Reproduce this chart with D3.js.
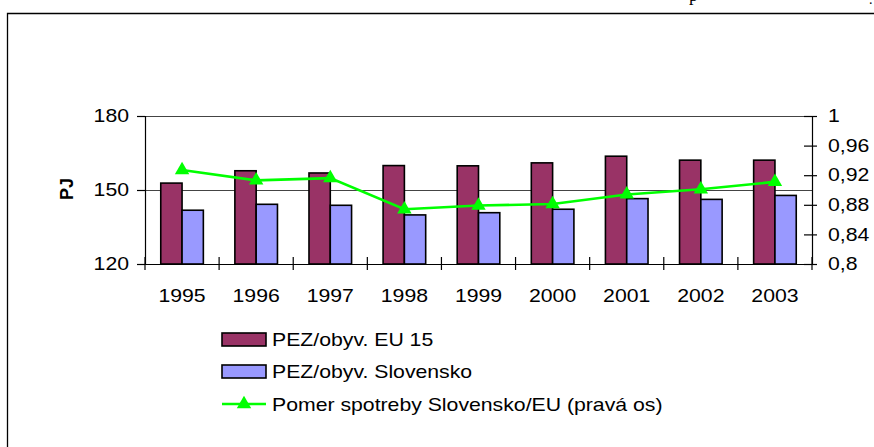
<!DOCTYPE html>
<html>
<head>
<meta charset="utf-8">
<script src="https://cdn.jsdelivr.net/npm/d3@7"></script>
<style>
  body { margin: 0; background: #fff; }
  svg { display: block; font-family: 'Liberation Sans', Arial, sans-serif; }
</style>
</head>
<body>
<svg id="chart" width="874" height="447"></svg>
<script>
// Data
const years = ['1995', '1996', '1997', '1998', '1999', '2000', '2001', '2002', '2003']
const pezEU = [152.8, 157.8, 156.9, 159.9, 159.8, 161.0, 163.7, 162.1, 162.1]
const pezSK = [141.8, 144.2, 143.8, 139.9, 140.8, 142.2, 146.5, 146.2, 147.8]
const ratio = [0.927, 0.913, 0.916, 0.874, 0.879, 0.881, 0.894, 0.901, 0.911]
const leftTicks = [120, 150, 180]
const rightTicks = [0.8, 0.84, 0.88, 0.92, 0.96, 1]
const seriesNames = ['PEZ/obyv. EU 15', 'PEZ/obyv. Slovensko', 'Pomer spotreby Slovensko/EU (pravá os)']
const colors = ['#993366', '#9999ff', '#00ff00']

const svg = d3.select('#chart')
const plot = { left: 145, right: 812, top: 116, bottom: 264 }
const stretch = 1.18 // the picture's text is a little wider than plain Arial

// Text in the reference looks horizontally stretched, so scale each label
function widen (sel) {
  sel.each(function () {
    const t = d3.select(this)
    const x = +t.attr('x') || 0
    const y = +t.attr('y') || 0
    t.attr('x', 0).attr('y', 0)
      .attr('transform', `translate(${x},${y}) scale(${stretch},1)`)
  })
}

// Outer frame (only the top and left edges are in view)
svg.append('path')
  .attr('d', 'M7.5,447V13.5H874')
  .attr('fill', 'none')
  .attr('stroke', '#000')
  .attr('stroke-width', 1.3)

// Leftover glyphs of the page text above the frame
svg.append('text')
  .attr('x', 689).attr('y', 0.5)
  .style('font-family', "'Liberation Serif', serif")
  .style('font-size', '18px')
  .text('p')
svg.append('text')
  .attr('x', 869).attr('y', 4)
  .style('font-family', "'Liberation Serif', serif")
  .style('font-size', '14px')
  .text('.')

// Scales
const x = d3.scaleBand().domain(years).range([plot.left, plot.right])
const x1 = d3.scaleBand().domain(['eu', 'sk']).range([0, x.bandwidth()]).paddingOuter(0.74)
const y = d3.scaleLinear().domain([120, 180]).range([plot.bottom, plot.top])
const y2 = d3.scaleLinear().domain([0.8, 1]).range([plot.bottom, plot.top])

// Gridlines
svg.append('g')
  .selectAll('line')
  .data(leftTicks.slice(1))
  .join('line')
  .attr('x1', plot.left).attr('x2', plot.right)
  .attr('y1', d => Math.round(y(d)) + 0.5).attr('y2', d => Math.round(y(d)) + 0.5)
  .attr('stroke', '#444')
  .attr('stroke-width', 1.2)

// Bars
const groups = svg.append('g')
  .selectAll('g')
  .data(years)
  .join('g')
  .attr('transform', d => `translate(${x(d)},0)`)

groups.append('rect')
  .attr('x', x1('eu'))
  .attr('y', (d, i) => y(pezEU[i]))
  .attr('width', x1.bandwidth())
  .attr('height', (d, i) => y(120) - y(pezEU[i]))
  .attr('fill', colors[0])
  .attr('stroke', '#000')
  .attr('stroke-width', 1.6)

groups.append('rect')
  .attr('x', x1('sk'))
  .attr('y', (d, i) => y(pezSK[i]))
  .attr('width', x1.bandwidth())
  .attr('height', (d, i) => y(120) - y(pezSK[i]))
  .attr('fill', colors[1])
  .attr('stroke', '#000')
  .attr('stroke-width', 1.6)

// Left axis
const leftAxis = svg.append('g')
  .attr('transform', `translate(${plot.left},0)`)
  .call(d3.axisLeft(y).tickValues(leftTicks).tickSize(8).tickPadding(8))
leftAxis.select('.domain').attr('stroke', '#000').attr('stroke-width', 1.2)
leftAxis.selectAll('.tick line').attr('stroke', '#000').attr('stroke-width', 1.2)
leftAxis.selectAll('text')
  .style('font-family', "'Liberation Sans', Arial, sans-serif")
  .style('font-size', '18px')
  .attr('fill', '#000')
  .call(widen)

// Right axis
const rightAxis = svg.append('g')
  .attr('transform', `translate(${plot.right},0)`)
  .call(d3.axisRight(y2).tickValues(rightTicks).tickSize(5).tickPadding(11)
    .tickFormat(d => d3.format('~g')(d).replace('.', ',')))
rightAxis.select('.domain').attr('stroke', '#000').attr('stroke-width', 1.2)
rightAxis.selectAll('.tick line')
  .attr('x1', -8)
  .attr('stroke', '#000').attr('stroke-width', 1.2)
rightAxis.selectAll('text')
  .style('font-family', "'Liberation Sans', Arial, sans-serif")
  .style('font-size', '18px')
  .attr('fill', '#000')
  .attr('text-anchor', 'start')
  .call(widen)

// Bottom axis: year labels at band centres, tick marks at band edges
const bottomAxis = svg.append('g')
  .attr('transform', `translate(0,${plot.bottom})`)
  .call(d3.axisBottom(x).tickSize(0).tickPadding(25))
bottomAxis.select('.domain').attr('stroke', '#000').attr('stroke-width', 1.2)
bottomAxis.selectAll('text')
  .style('font-family', "'Liberation Sans', Arial, sans-serif")
  .style('font-size', '18px')
  .attr('fill', '#000')
  .call(widen)

svg.append('g')
  .selectAll('line')
  .data(years.concat(['end']))
  .join('line')
  .attr('x1', (d, i) => i < years.length ? x(d) : x(years[years.length - 1]) + x.bandwidth())
  .attr('x2', (d, i) => i < years.length ? x(d) : x(years[years.length - 1]) + x.bandwidth())
  .attr('y1', plot.bottom - 7)
  .attr('y2', plot.bottom + 6)
  .attr('stroke', '#000')
  .attr('stroke-width', 1.2)

// Ratio line on the right axis
const line = d3.line()
  .x((d, i) => x(years[i]) + x.bandwidth() / 2)
  .y(d => y2(d))

svg.append('path')
  .datum(ratio)
  .attr('d', line)
  .attr('fill', 'none')
  .attr('stroke', colors[2])
  .attr('stroke-width', 2.6)

const triangle = d3.symbol().type(d3.symbolTriangle).size(90)
svg.append('g')
  .selectAll('path')
  .data(ratio)
  .join('path')
  .attr('d', triangle)
  .attr('transform', (d, i) => `translate(${x(years[i]) + x.bandwidth() / 2},${y2(d)})`)
  .attr('fill', colors[2])

// Axis title
svg.append('text')
  .attr('transform', 'translate(73,189) rotate(-90)')
  .attr('text-anchor', 'middle')
  .style('font-size', '18px')
  .style('font-weight', 'bold')
  .text('PJ')

// Legend
const legend = svg.append('g').attr('transform', 'translate(222,0)')
const rowY = [339.5, 371.5, 404]

legend.append('rect')
  .attr('x', 0).attr('y', rowY[0] - 6.5)
  .attr('width', 44).attr('height', 13)
  .attr('fill', colors[0]).attr('stroke', '#000').attr('stroke-width', 1.6)
legend.append('rect')
  .attr('x', 0).attr('y', rowY[1] - 6.5)
  .attr('width', 44).attr('height', 13)
  .attr('fill', colors[1]).attr('stroke', '#000').attr('stroke-width', 1.6)
legend.append('line')
  .attr('x1', 0).attr('x2', 44)
  .attr('y1', rowY[2]).attr('y2', rowY[2])
  .attr('stroke', colors[2]).attr('stroke-width', 2.6)
legend.append('path')
  .attr('d', triangle)
  .attr('transform', `translate(22,${rowY[2]})`)
  .attr('fill', colors[2])

legend.selectAll('text')
  .data(seriesNames)
  .join('text')
  .attr('x', 50)
  .attr('y', (d, i) => rowY[i] + 6.5)
  .style('font-size', '18px')
  .text(d => d)
  .call(widen)
</script>
</body>
</html>
